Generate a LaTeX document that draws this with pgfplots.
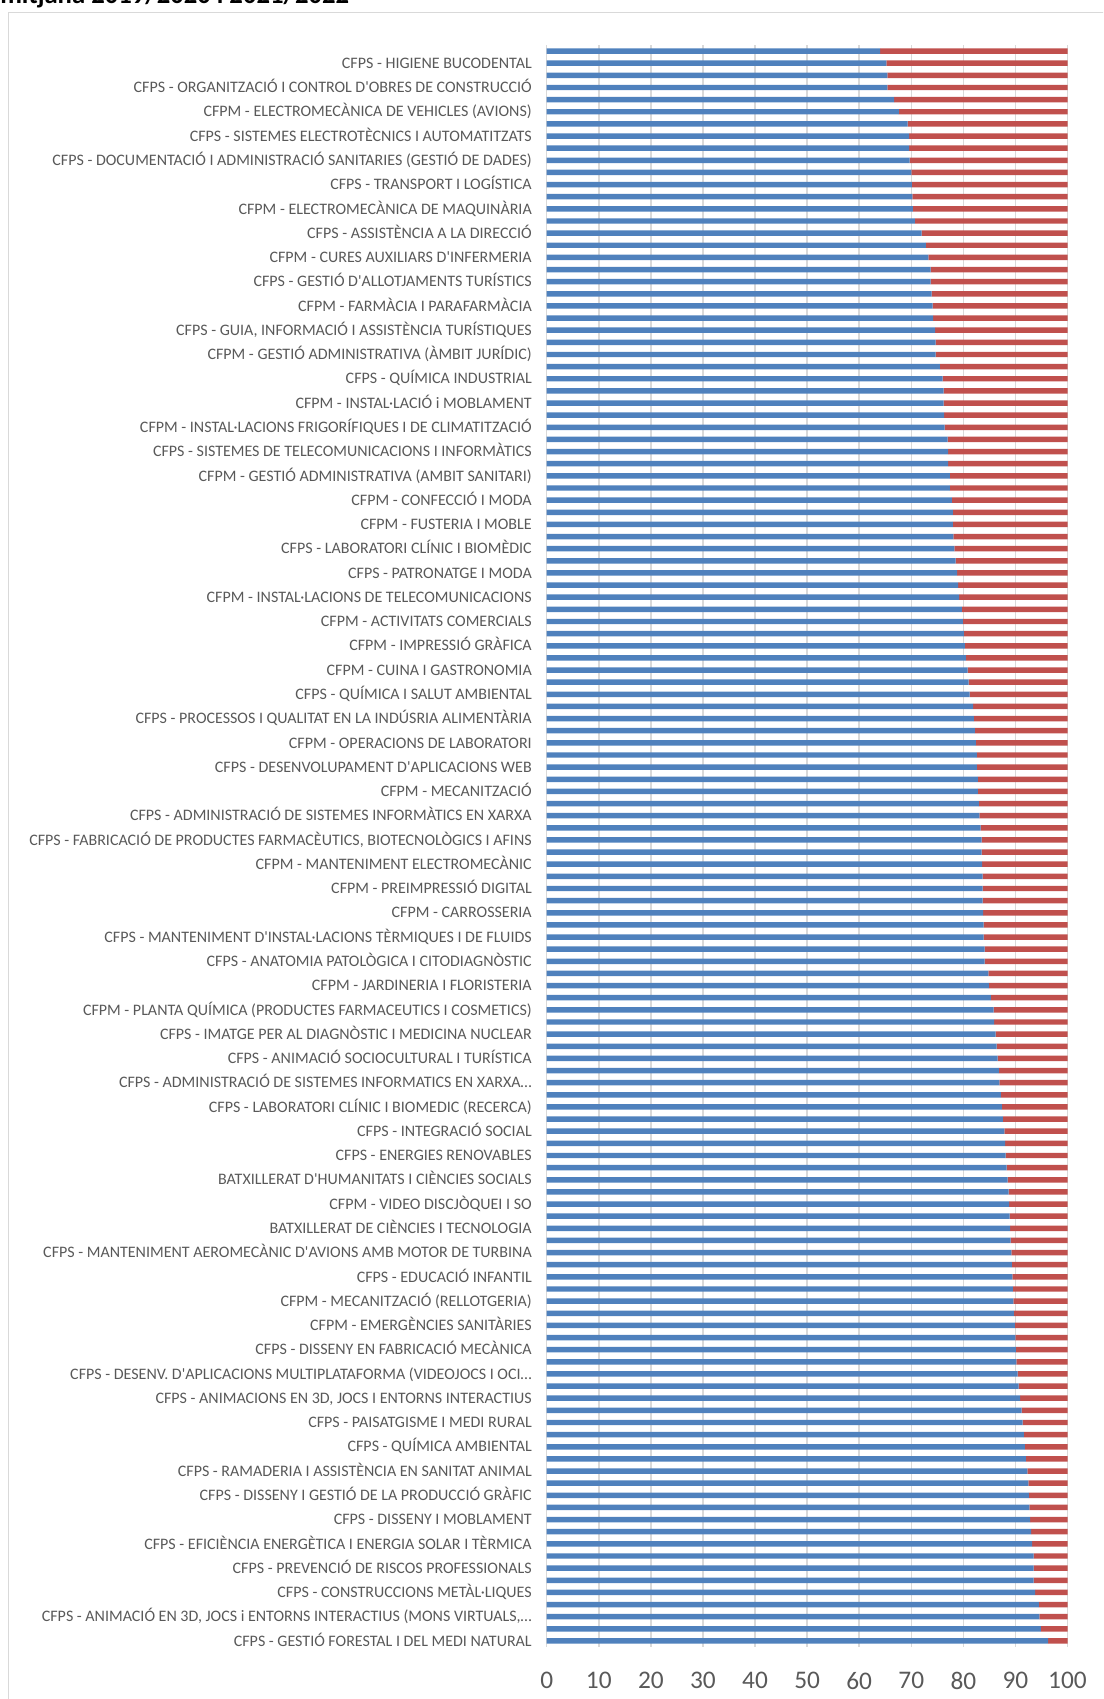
\documentclass[border=0pt]{standalone}
\usepackage{fontspec}
\setmainfont{Carlito}[Ligatures=TeXOff]
\usepackage{pgfplots}
\pgfplotsset{compat=1.18}
\usepackage{pgfplotstable}
\definecolor{xlblue}{HTML}{4F81BD}
\definecolor{xlred}{HTML}{C0504D}
\definecolor{gridgray}{HTML}{D9D9D9}
\definecolor{labgray}{HTML}{595959}

\pgfplotstableread{
cat b r
1 64.0 36.0
2 65.2 34.8
3 65.4 34.6
4 65.4 34.6
5 66.7 33.3
6 67.6 32.4
7 69.3 30.7
8 69.6 30.4
9 69.6 30.4
10 69.7 30.3
11 70.0 30.0
12 70.1 29.9
13 70.2 29.8
14 70.3 29.7
15 70.7 29.3
16 72.0 28.0
17 72.8 27.2
18 73.3 26.7
19 73.7 26.3
20 73.7 26.3
21 73.9 26.1
22 74.1 25.9
23 74.2 25.8
24 74.6 25.4
25 74.7 25.3
26 74.7 25.3
27 75.5 24.5
28 76.0 24.0
29 76.2 23.8
30 76.2 23.8
31 76.3 23.7
32 76.4 23.6
33 77.0 23.0
34 77.1 22.9
35 77.1 22.9
36 77.4 22.6
37 77.4 22.6
38 77.8 22.2
39 78.0 22.0
40 78.0 22.0
41 78.1 21.9
42 78.3 21.7
43 78.5 21.5
44 78.8 21.2
45 79.0 21.0
46 79.2 20.8
47 79.7 20.3
48 79.9 20.1
49 80.1 19.9
50 80.3 19.7
51 80.5 19.5
52 80.8 19.2
53 81.0 19.0
54 81.2 18.8
55 81.9 18.1
56 82.0 18.0
57 82.2 17.8
58 82.4 17.6
59 82.6 17.4
60 82.6 17.4
61 82.8 17.2
62 82.8 17.2
63 83.0 17.0
64 83.1 16.9
65 83.3 16.7
66 83.5 16.5
67 83.5 16.5
68 83.6 16.4
69 83.7 16.3
70 83.7 16.3
71 83.7 16.3
72 83.8 16.2
73 83.9 16.1
74 83.9 16.1
75 84.1 15.9
76 84.1 15.9
77 84.8 15.2
78 84.9 15.1
79 85.3 14.7
80 85.8 14.2
81 85.9 14.1
82 86.2 13.8
83 86.4 13.6
84 86.6 13.4
85 86.8 13.2
86 86.9 13.1
87 87.2 12.8
88 87.4 12.6
89 87.6 12.4
90 87.9 12.1
91 88.0 12.0
92 88.1 11.9
93 88.3 11.7
94 88.5 11.5
95 88.7 11.3
96 88.8 11.2
97 88.9 11.1
98 89.0 11.0
99 89.1 10.9
100 89.2 10.8
101 89.3 10.7
102 89.4 10.6
103 89.5 10.5
104 89.6 10.4
105 89.7 10.3
106 89.9 10.1
107 90.0 10.0
108 90.1 9.9
109 90.2 9.8
110 90.4 9.6
111 90.6 9.4
112 90.9 9.1
113 91.2 8.8
114 91.4 8.6
115 91.6 8.4
116 91.8 8.2
117 92.0 8.0
118 92.3 7.7
119 92.5 7.5
120 92.6 7.4
121 92.7 7.3
122 92.8 7.2
123 93.0 7.0
124 93.2 6.8
125 93.5 6.5
126 93.5 6.5
127 93.5 6.5
128 93.8 6.2
129 94.5 5.5
130 94.6 5.4
131 94.9 5.1
132 96.3 3.7
}\datatable

\begin{document}
\begin{tikzpicture}
\useasboundingbox (0,0) rectangle (827.25pt,1274.25pt);
\begin{scope}
\clip (0,0) rectangle (827.25pt,1274.25pt);
\draw[gridgray, line width=0.75pt] (6.4pt,-20pt) rectangle (850pt,1264.9pt);
\node[anchor=base west, inner sep=0pt, font=\bfseries\fontsize{20}{24}\selectfont] at (0pt,1271.25pt) {mitjana 2019/2020 i 2021/2022};
\end{scope}
\begin{axis}[
  at={(410.025pt,39pt)}, anchor=south west,
  scale only axis, width=390.6pt, height=1201.5pt,
  xbar stacked, bar width=0.45,
  xmin=0, xmax=100, ymin=0.5, ymax=132.5, y dir=reverse,
  xtick={0,10,...,100}, xticklabels={0,10,20,30,40,50,60,70,80,90,100},
  ytick={2,4,...,132},
  yticklabels={
{CFPS - HIGIENE BUCODENTAL},
{CFPS - ORGANITZACIÓ I CONTROL D'OBRES DE CONSTRUCCIÓ},
{CFPM - ELECTROMECÀNICA DE VEHICLES (AVIONS)},
{CFPS - SISTEMES ELECTROTÈCNICS I AUTOMATITZATS},
{CFPS - DOCUMENTACIÓ I ADMINISTRACIÓ SANITARIES (GESTIÓ DE DADES)},
{CFPS - TRANSPORT I LOGÍSTICA},
{CFPM - ELECTROMECÀNICA DE MAQUINÀRIA},
{CFPS - ASSISTÈNCIA A LA DIRECCIÓ},
{CFPM - CURES AUXILIARS D'INFERMERIA},
{CFPS - GESTIÓ D'ALLOTJAMENTS TURÍSTICS},
{CFPM - FARMÀCIA I PARAFARMÀCIA},
{CFPS - GUIA, INFORMACIÓ I ASSISTÈNCIA TURÍSTIQUES},
{CFPM - GESTIÓ ADMINISTRATIVA (ÀMBIT JURÍDIC)},
{CFPS - QUÍMICA INDUSTRIAL},
{CFPM - INSTAL·LACIÓ i MOBLAMENT},
{CFPM - INSTAL·LACIONS FRIGORÍFIQUES I DE CLIMATITZACIÓ},
{CFPS - SISTEMES DE TELECOMUNICACIONS I INFORMÀTICS},
{CFPM - GESTIÓ ADMINISTRATIVA (AMBIT SANITARI)},
{CFPM - CONFECCIÓ I MODA},
{CFPM - FUSTERIA I MOBLE},
{CFPS - LABORATORI CLÍNIC I BIOMÈDIC},
{CFPS - PATRONATGE I MODA},
{CFPM - INSTAL·LACIONS DE TELECOMUNICACIONS},
{CFPM - ACTIVITATS COMERCIALS},
{CFPM - IMPRESSIÓ GRÀFICA},
{CFPM - CUINA I GASTRONOMIA},
{CFPS - QUÍMICA I SALUT AMBIENTAL},
{CFPS - PROCESSOS I QUALITAT EN LA INDÚSRIA ALIMENTÀRIA},
{CFPM - OPERACIONS DE LABORATORI},
{CFPS - DESENVOLUPAMENT D'APLICACIONS WEB},
{CFPM - MECANITZACIÓ},
{CFPS - ADMINISTRACIÓ DE SISTEMES INFORMÀTICS EN XARXA},
{CFPS - FABRICACIÓ DE PRODUCTES FARMACÈUTICS, BIOTECNOLÒGICS I AFINS},
{CFPM - MANTENIMENT ELECTROMECÀNIC},
{CFPM - PREIMPRESSIÓ DIGITAL},
{CFPM - CARROSSERIA},
{CFPS - MANTENIMENT D'INSTAL·LACIONS TÈRMIQUES I DE FLUIDS},
{CFPS - ANATOMIA PATOLÒGICA I CITODIAGNÒSTIC},
{CFPM - JARDINERIA I FLORISTERIA},
{CFPM - PLANTA QUÍMICA (PRODUCTES FARMACEUTICS I COSMETICS)},
{CFPS - IMATGE PER AL DIAGNÒSTIC I MEDICINA NUCLEAR},
{CFPS - ANIMACIÓ SOCIOCULTURAL I TURÍSTICA},
{CFPS - ADMINISTRACIÓ DE SISTEMES INFORMATICS EN XARXA…},
{CFPS - LABORATORI CLÍNIC I BIOMEDIC (RECERCA)},
{CFPS - INTEGRACIÓ SOCIAL},
{CFPS - ENERGIES RENOVABLES},
{BATXILLERAT D'HUMANITATS I CIÈNCIES SOCIALS},
{CFPM - VIDEO DISCJÒQUEI I SO},
{BATXILLERAT DE CIÈNCIES I TECNOLOGIA},
{CFPS - MANTENIMENT AEROMECÀNIC D'AVIONS AMB MOTOR DE TURBINA},
{CFPS - EDUCACIÓ INFANTIL},
{CFPM - MECANITZACIÓ (RELLOTGERIA)},
{CFPM - EMERGÈNCIES SANITÀRIES},
{CFPS - DISSENY EN FABRICACIÓ MECÀNICA},
{CFPS - DESENV. D'APLICACIONS MULTIPLATAFORMA (VIDEOJOCS I OCI…},
{CFPS - ANIMACIONS EN 3D, JOCS I ENTORNS INTERACTIUS},
{CFPS - PAISATGISME I MEDI RURAL},
{CFPS - QUÍMICA AMBIENTAL},
{CFPS - RAMADERIA I ASSISTÈNCIA EN SANITAT ANIMAL},
{CFPS - DISSENY I GESTIÓ DE LA PRODUCCIÓ GRÀFIC},
{CFPS - DISSENY I MOBLAMENT},
{CFPS - EFICIÈNCIA ENERGÈTICA I ENERGIA SOLAR I TÈRMICA},
{CFPS - PREVENCIÓ DE RISCOS PROFESSIONALS},
{CFPS - CONSTRUCCIONS METÀL·LIQUES},
{CFPS - ANIMACIÓ EN 3D, JOCS i ENTORNS INTERACTIUS (MONS VIRTUALS,…},
{CFPS - GESTIÓ FORESTAL I DEL MEDI NATURAL}
  },
  xmajorgrids, grid style={gridgray, line width=1.1pt},
  axis line style={draw=none}, major tick length=0pt,
  tick label style={text=labgray},
  yticklabel style={font=\fontsize{12}{14}\selectfont, anchor=base east, inner sep=0pt, xshift=-11pt, yshift=-3.9pt},
  xticklabel style={font=\fontsize{19}{22}\selectfont, anchor=north, inner sep=0pt, yshift=-18.5pt},
  clip=false,
]
\addplot[fill=xlblue, draw=none] table[x=b, y=cat]{\datatable};
\addplot[fill=xlred, draw=none] table[x=r, y=cat]{\datatable};
\end{axis}
\end{tikzpicture}
\end{document}
